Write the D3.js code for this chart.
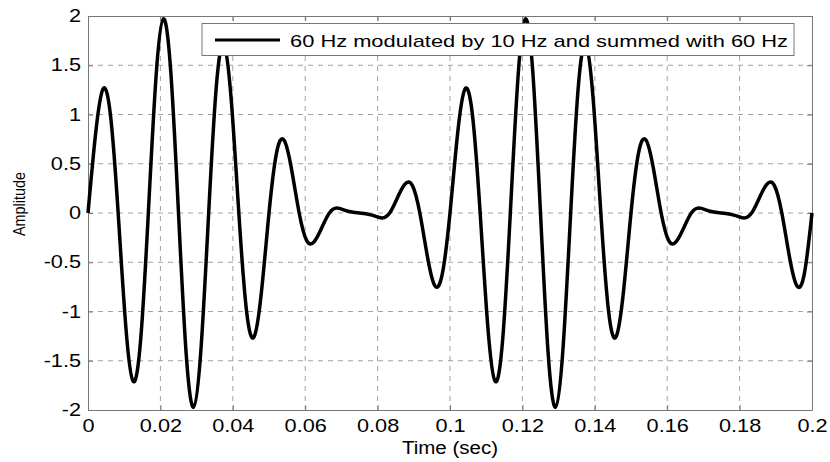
<!DOCTYPE html>
<html>
<head>
<meta charset="utf-8">
<script src="https://cdn.jsdelivr.net/npm/d3@7"></script>
<style>
  body { margin: 0; background: #fff; }
  text { font-family: "Liberation Sans", Arial, sans-serif; fill: #000; }
</style>
</head>
<body>
<svg></svg>
<script>
const width = 830;
const height = 462;

const sampleStep = 1 / 480;
const amplitude = [
    0, 0.80, 1.26, 0.98, 0, -1.14, -1.71, -1.27,
    0, 1.36, 1.97, 1.41, 0, -1.41, -1.97, -1.36,
    0, 1.27, 1.71, 1.14, 0, -0.98, -1.26, -0.80,
    0, 0.61, 0.74, 0.44, 0, -0.28, -0.29, -0.15,
    0, 0.05, 0.03, 0.01, 0, -0.01, -0.03, -0.05,
    0, 0.15, 0.29, 0.28, 0, -0.44, -0.74, -0.61,
    0, 0.80, 1.26, 0.98, 0, -1.14, -1.71, -1.27,
    0, 1.36, 1.97, 1.41, 0, -1.41, -1.97, -1.36,
    0, 1.27, 1.71, 1.14, 0, -0.98, -1.26, -0.80,
    0, 0.61, 0.74, 0.44, 0, -0.28, -0.29, -0.15,
    0, 0.05, 0.03, 0.01, 0, -0.01, -0.03, -0.05,
    0, 0.15, 0.29, 0.28, 0, -0.44, -0.74, -0.61,
    0
];
const xTicks = [0, 0.02, 0.04, 0.06, 0.08, 0.1, 0.12, 0.14, 0.16, 0.18, 0.2];
const yTicks = [-2, -1.5, -1, -0.5, 0, 0.5, 1, 1.5, 2];
const legendLabel = '60 Hz modulated by 10 Hz and summed with 60 Hz';

const margin = {left: 88, right: 18, top: 16, bottom: 52};
const stretch = 1.24; // the scanned text is wider than it is tall

const svg = d3.select('svg')
    .attr('width', width)
    .attr('height', height);

const x = d3.scaleLinear()
    .domain([0, 0.2])
    .range([margin.left, width - margin.right]);

const y = d3.scaleLinear()
    .domain([-2, 2])
    .range([height - margin.bottom, margin.top]);

const fmt = d => String(d);

// grid
const grid = svg.append('g')
    .attr('stroke', '#8a8a8a')
    .attr('stroke-width', 0.8)
    .attr('stroke-dasharray', '5,5');

grid.selectAll('.vgrid')
    .data(xTicks.slice(1, -1))
    .enter()
    .append('line')
    .attr('x1', d => x(d))
    .attr('x2', d => x(d))
    .attr('y1', y(2))
    .attr('y2', y(-2));

grid.selectAll('.hgrid')
    .data(yTicks.slice(1, -1))
    .enter()
    .append('line')
    .attr('x1', x(0))
    .attr('x2', x(0.2))
    .attr('y1', d => y(d))
    .attr('y2', d => y(d));

// axes (MATLAB style, ticks inside)
const bottomAxis = svg.append('g')
    .attr('transform', `translate(0,${y(-2)})`)
    .call(d3.axisBottom(x).tickValues(xTicks).tickFormat(fmt).tickSizeInner(-5).tickSizeOuter(0).tickPadding(10));

const topAxis = svg.append('g')
    .attr('transform', `translate(0,${y(2)})`)
    .call(d3.axisTop(x).tickValues(xTicks).tickFormat('').tickSizeInner(-5).tickSizeOuter(0));

const leftAxis = svg.append('g')
    .attr('transform', `translate(${x(0)},0)`)
    .call(d3.axisLeft(y).tickValues(yTicks).tickFormat(fmt).tickSizeInner(-5).tickSizeOuter(0).tickPadding(7));

const rightAxis = svg.append('g')
    .attr('transform', `translate(${x(0.2)},0)`)
    .call(d3.axisRight(y).tickValues(yTicks).tickFormat('').tickSizeInner(-5).tickSizeOuter(0));

[bottomAxis, topAxis, leftAxis, rightAxis].forEach(a => {
    a.select('.domain').attr('stroke', '#777').attr('stroke-width', 1);
    a.selectAll('.tick line').attr('stroke', '#777');
    a.selectAll('text')
        .attr('font-size', 17.5)
        .attr('font-family', '"Liberation Sans", Arial, sans-serif')
        .attr('fill', '#000');
});

bottomAxis.selectAll('.tick text')
    .attr('transform', `scale(${stretch},1)`);

leftAxis.selectAll('.tick text')
    .attr('x', -7 / stretch)
    .attr('transform', `scale(${stretch},1)`);

// signal
const line = d3.line()
    .x((d, i) => x(i * sampleStep))
    .y(d => y(d))
    .curve(d3.curveNatural);

svg.append('path')
    .datum(amplitude)
    .attr('fill', 'none')
    .attr('stroke', '#000')
    .attr('stroke-width', 3.5)
    .attr('stroke-linejoin', 'round')
    .attr('d', line);

// legend
const legend = svg.append('g');

legend.append('rect')
    .attr('x', 202)
    .attr('y', 23.5)
    .attr('width', 592)
    .attr('height', 32)
    .attr('fill', '#fff')
    .attr('stroke', '#777')
    .attr('stroke-width', 1);

legend.append('line')
    .attr('x1', 215)
    .attr('x2', 280)
    .attr('y1', 40)
    .attr('y2', 40)
    .attr('stroke', '#000')
    .attr('stroke-width', 3);

legend.append('text')
    .attr('x', 290)
    .attr('y', 46.5)
    .attr('font-size', 17)
    .attr('textLength', 498)
    .attr('lengthAdjust', 'spacingAndGlyphs')
    .text(legendLabel);

// axis labels
svg.append('text')
    .attr('x', 402)
    .attr('y', 454)
    .attr('font-size', 18)
    .attr('textLength', 96)
    .attr('lengthAdjust', 'spacingAndGlyphs')
    .text('Time (sec)');

svg.append('text')
    .attr('transform', `translate(25,236) rotate(-90)`)
    .attr('font-size', 16.5)
    .attr('textLength', 64)
    .attr('lengthAdjust', 'spacingAndGlyphs')
    .text('Amplitude');
</script>
</body>
</html>
